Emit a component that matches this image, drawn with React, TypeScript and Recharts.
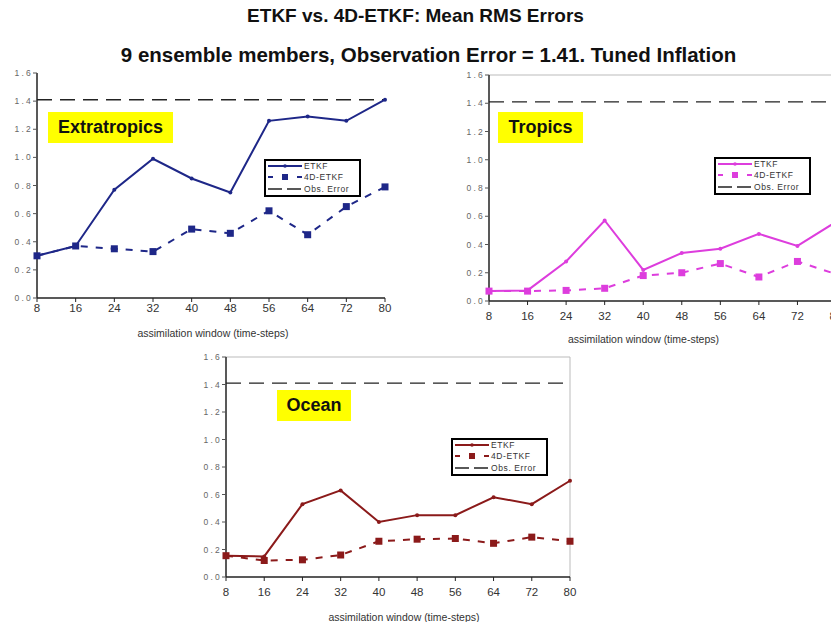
import React from "react";
import { LineChart, Line, XAxis, YAxis, ReferenceLine } from "recharts";

// assimilation window (time-steps)
const windows = [8, 16, 24, 32, 40, 48, 56, 64, 72, 80];
const yTicks = [0, 0.2, 0.4, 0.6, 0.8, 1.0, 1.2, 1.4, 1.6];
const obsError = 1.41;

const extraEtkf = [0.3, 0.37, 0.77, 0.99, 0.85, 0.75, 1.26, 1.29, 1.26, 1.41];
const extra4d = [0.3, 0.37, 0.35, 0.33, 0.49, 0.46, 0.62, 0.45, 0.65, 0.79];

const tropEtkf = [0.07, 0.075, 0.28, 0.57, 0.22, 0.34, 0.37, 0.475, 0.39, 0.56];
const trop4d = [0.07, 0.07, 0.075, 0.09, 0.18, 0.2, 0.265, 0.17, 0.28, 0.19];

const oceanEtkf = [0.155, 0.15, 0.53, 0.63, 0.4, 0.45, 0.45, 0.58, 0.53, 0.7];
const ocean4d = [0.155, 0.12, 0.125, 0.16, 0.26, 0.275, 0.28, 0.245, 0.29, 0.26];

const FONT = "'Liberation Sans', Arial, sans-serif";

const build = (a: number[], b: number[]) =>
  windows.map((w, i) => ({ w, etkf: a[i], d4: b[i] }));

const Square = (color: string) => (props: any) => {
  const { cx, cy, index } = props;
  if (cx == null || cy == null) return <g key={index} />;
  return <rect key={index} x={cx - 3.5} y={cy - 3.5} width={7} height={7} fill={color} />;
};

type PanelProps = {
  name: string;
  color: string;
  etkf: number[];
  d4: number[];
  left: number;
  top: number;
  width: number;
  height: number;
  margin: { top: number; right: number; bottom: number; left: number };
  yWidth: number;
  xHeight: number;
  tickMargin: number;
  titleDx: number;
  border: boolean;
  tag: { left: number; top: number; width: number; height: number };
  legend: { left: number; top: number };
};

function Legend({ color, left, top }: { color: string; left: number; top: number }) {
  return (
    <div
      style={{
        position: "absolute",
        left,
        top,
        width: 97,
        height: 38,
        border: "2px solid #000",
        boxSizing: "border-box",
        background: "#fff",
      }}
    >
      <svg width={93} height={34} style={{ position: "absolute", left: 0, top: 0 }}>
        <line x1={2} x2={36} y1={5} y2={5} stroke={color} strokeWidth={2} />
        <circle cx={19} cy={5} r={1.8} fill={color} />
        <rect x={2} y={15} width={5} height={2} fill={color} />
        <rect x={16} y={13} width={6} height={6} fill={color} />
        <rect x={31} y={15} width={5} height={2} fill={color} />
        <line x1={2} x2={36} y1={28} y2={28} stroke="#222" strokeWidth={1.4} strokeDasharray="14 5" />
        {[
          ["ETKF", 8],
          ["4D-ETKF", 19],
          ["Obs. Error", 31],
        ].map(([t, y]) => (
          <text
            key={t as string}
            x={38}
            y={y as number}
            fontSize={8.5}
            fill="#333"
            fontFamily={FONT}
            letterSpacing={0.6}
          >
            {t}
          </text>
        ))}
      </svg>
    </div>
  );
}

function Panel(p: PanelProps) {
  const data = build(p.etkf, p.d4);
  return (
    <div style={{ position: "absolute", left: p.left, top: p.top, width: p.width, height: p.height }}>
      <LineChart width={p.width} height={p.height} data={data} margin={p.margin}>
        <XAxis
          dataKey="w"
          type="number"
          domain={[8, 80]}
          ticks={windows}
          interval={0}
          height={p.xHeight}
          axisLine={{ stroke: "#222", strokeWidth: 1.5 }}
          tickLine={{ stroke: "#222" }}
          tickSize={4}
          tickMargin={p.tickMargin}
          tick={{ fontSize: 11.5, fill: "#333", fontFamily: FONT }}
          label={{
            value: "assimilation window (time-steps)",
            position: "insideBottom",
            offset: 1,
            dx: p.titleDx,
            fontSize: 10.5,
            fill: "#333",
            fontFamily: FONT,
          }}
        />
        <YAxis
          type="number"
          domain={[0, 1.6]}
          ticks={yTicks}
          interval={0}
          width={p.yWidth}
          axisLine={{ stroke: "#222", strokeWidth: 1.5 }}
          tickLine={{ stroke: "#555" }}
          tickSize={4}
          tickMargin={0}
          tickFormatter={(v: number) => v.toFixed(1)}
          tick={{ fontSize: 8.5, fill: "#666", fontFamily: FONT, letterSpacing: 2.2 }}
        />
        {p.border && <ReferenceLine y={1.6} stroke="#bbb" strokeWidth={1} />}
        {p.border && <ReferenceLine x={80} stroke="#bbb" strokeWidth={1} />}
        <ReferenceLine y={obsError} stroke="#222" strokeWidth={1.4} strokeDasharray="15 8" />
        <Line
          dataKey="d4"
          stroke={p.color}
          strokeWidth={2}
          strokeDasharray="7 8"
          dot={Square(p.color)}
          isAnimationActive={false}
        />
        <Line
          dataKey="etkf"
          stroke={p.color}
          strokeWidth={2}
          dot={{ r: 2, fill: p.color, stroke: p.color, strokeWidth: 0 }}
          isAnimationActive={false}
        />
      </LineChart>
      <div
        style={{
          position: "absolute",
          left: p.tag.left - p.left,
          top: p.tag.top - p.top,
          width: p.tag.width,
          height: p.tag.height,
          background: "#ffff00",
          fontFamily: FONT,
          fontWeight: "bold",
          fontSize: 18,
          color: "#111",
          display: "flex",
          alignItems: "center",
          justifyContent: "center",
        }}
      >
        {p.name}
      </div>
      <Legend color={p.color} left={p.legend.left - p.left} top={p.legend.top - p.top} />
    </div>
  );
}

export default function App() {
  return (
    <div
      style={{
        position: "absolute",
        left: 0,
        top: 0,
        width: 831,
        height: 624,
        overflow: "hidden",
        background: "#fff",
        fontFamily: FONT,
      }}
    >
      <div
        style={{
          position: "absolute",
          left: 0,
          top: 5,
          width: 831,
          textAlign: "center",
          fontWeight: "bold",
          fontSize: 19,
          color: "#111",
        }}
      >
        ETKF vs. 4D-ETKF: Mean RMS Errors
      </div>
      <div
        style={{
          position: "absolute",
          left: 0,
          top: 43,
          width: 857,
          textAlign: "center",
          fontWeight: "bold",
          fontSize: 20.5,
          color: "#111",
        }}
      >
        9 ensemble members, Observation Error = 1.41. Tuned Inflation
      </div>

      <Panel
        name="Extratropics"
        color="#1e2788"
        etkf={extraEtkf}
        d4={extra4d}
        left={0}
        top={60}
        width={400}
        height={290}
        margin={{ top: 13, right: 15, bottom: 12, left: 0 }}
        yWidth={37}
        xHeight={40}
        tickMargin={2}
        titleDx={2}
        border={false}
        tag={{ left: 48, top: 112, width: 125, height: 31 }}
        legend={{ left: 264, top: 159 }}
      />
      <Panel
        name="Tropics"
        color="#dd3ddd"
        etkf={tropEtkf}
        d4={trop4d}
        left={420}
        top={60}
        width={430}
        height={293}
        margin={{ top: 15, right: 14, bottom: 9, left: 32 }}
        yWidth={37}
        xHeight={43}
        tickMargin={7}
        titleDx={-19}
        border={true}
        tag={{ left: 498, top: 112, width: 85, height: 31 }}
        legend={{ left: 714, top: 157 }}
      />
      <Panel
        name="Ocean"
        color="#8b1a1a"
        etkf={oceanEtkf}
        d4={ocean4d}
        left={190}
        top={345}
        width={395}
        height={277}
        margin={{ top: 12, right: 15, bottom: 0, left: 0 }}
        yWidth={36}
        xHeight={45}
        tickMargin={7}
        titleDx={6}
        border={true}
        tag={{ left: 277, top: 390, width: 74, height: 31 }}
        legend={{ left: 451, top: 438 }}
      />
    </div>
  );
}
